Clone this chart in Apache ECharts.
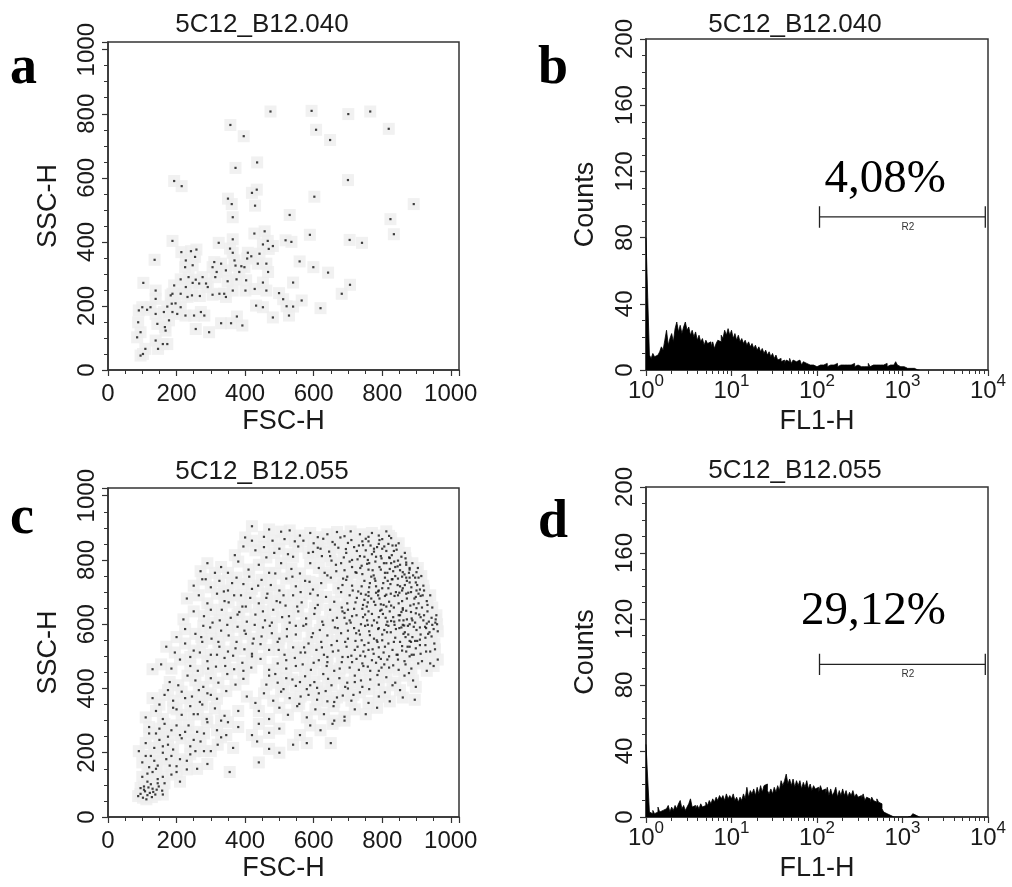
<!DOCTYPE html>
<html><head><meta charset="utf-8">
<script src="https://cdn.jsdelivr.net/npm/echarts@6/dist/echarts.min.js"></script>
<style>html,body{margin:0;padding:0;background:#fff}#chart{width:1012px;height:887px}</style>
</head><body><div id="chart"></div>
<script>
// ---------------- data ----------------
const panelLetters = ['a', 'b', 'c', 'd'];
const panelTitles = ['5C12_B12.040', '5C12_B12.040', '5C12_B12.055', '5C12_B12.055'];
const scatterXName = 'FSC-H', scatterYName = 'SSC-H';
const histXName = 'FL1-H', histYName = 'Counts';
const scatterMin = 0, scatterMax = 1024, scatterStep = 200;
const histYMin = 0, histYMax = 200, histYStep = 40;
const histXMin = 1, histXMax = 10000;
const gatePercents = ['4,08%', '29,12%'];
const gateName = 'R2';
const gateStart = 107, gateEnd = 9300, gateLevel = 92.5, gateCapLow = 86, gateCapHigh = 99;
const binWidthDecades = 0.02; // FL1 channel bins, in decades

const histB = [80,44,
 9,7,10,8,9,8,
 11,14,12,18,24, 15,19,22,17,25, 29,23,27,22,26, 29,24,26,21,24, 20,23,18,21,17,
 19,15,18,16,17, 14,17,13,16,18, 17,21,19,24,21, 25,21,24,19,22, 18,21,17,19,16,
 18,15,17,14,16, 13,15,12,14,11, 13,10,12,9,11, 8,10,7,9,6, 7,5,6,4,6,
 5,7,4,6,5, 4,6,5,3,5, 4,5,3,4,3, 4,2,3,3,2, 3,2,4,2,3,
 2,3,2,4,2, 3,2,3,2,3, 2,3,2,4,2, 3,2,2,3,2, 3,2,4,2,3,
 2,3,2,3,2, 3,2,4,2,3, 2,3,2,5,3, 2,3,2,2,1, 2,1,2,1,0, 0,0];

const histD = [44,23,
 3,2,4,2, 3,6,3,4,
 3,5,4,7,3, 6,4,7,5,8, 10,5,7,4,6, 8,11,6,7,5, 7,5,8,6,7,
 9,7,10,8,11, 9,12,10,13,11, 13,10,14,11,13, 11,14,10,12,9, 12,10,14,11,18,
 12,16,14,17,13, 18,14,19,15,19, 20,16,14,17,14, 18,15,19,16,22, 19,22,26,20,23,
 19,23,18,22,19, 22,17,21,18,22, 17,20,16,19,17, 18,15,19,16,17, 14,18,13,17,13,
 15,18,12,16,13, 17,13,16,12,15, 13,16,12,14,12, 13,11,14,10,12, 11,9,12,10,9,
 11,9,8,5,3, 2,2,1,1,0, 0,0,0,0,0, 0,0,0,0,0.5, 1,2,1,0,0];

const scatterA = [
 [474,807],[594,809],[701,799],[765,807],[357,765],[607,750],[648,718],[819,753],[396,730],[435,648],
 [372,631],[700,593],[215,574],[193,590],[420,553],[434,563],[602,541],[429,513],[350,535],[361,518],
 [892,518],[530,484],[364,477],[824,471],[834,424],[589,422],[705,406],[518,405],[535,400],[741,397],
 [188,403],[323,397],[364,408],[457,433],[427,426],[481,387],[469,378],[356,379],[364,366],[242,371],
 [258,376],[214,368],[442,363],[418,355],[406,348],[437,332],[462,332],[389,324],[369,342],[330,332],
 [310,337],[254,353],[227,342],[136,344],[599,321],[559,339],[642,304],[467,306],[398,321],[305,321],
 [317,306],[344,311],[225,321],[235,290],[256,282],[266,270],[286,270],[247,272],[349,277],[375,283],
 [403,280],[428,253],[452,273],[193,264],[103,272],[706,266],[540,273],[682,238],[565,217],[462,248],
 [499,240],[511,221],[521,199],[540,198],[432,201],[452,196],[620,193],[325,238],[344,228],[305,235],
 [268,231],[245,233],[232,228],[212,238],[183,233],[139,248],[139,222],[197,208],[186,207],[173,198],
 [124,196],[100,196],[90,186],[114,188],[212,196],[226,170],[251,170],[271,181],[281,170],[202,175],
 [188,181],[178,155],[166,134],[168,123],[144,144],[139,92],[146,66],[160,81],[173,81],[109,66],
 [95,118],[88,149],[85,102],[95,45],[102,50],[256,128],[295,118],[330,146],[359,146],[392,139],
 [376,167],[481,164],[528,170],[401,248],[364,248],[291,259],[339,238],[383,306],[372,326],[408,366],
 [452,392],[466,403],[247,327],[276,290],[313,290],[227,259],[212,283],[188,238],[163,181],[139,175]
];

const scatterC = [
 [420,905],[455,872],[505,888],[530,892],[560,876],[590,884],[612,871],[640,880],[668,887],[690,874],
 [708,889],[735,880],[752,866],[770,884],[790,876],[812,889],[826,868],[480,860],[545,858],[600,852],
 [655,856],[700,853],[742,858],[790,850],[830,845],
 [370,815],[395,842],[430,830],[462,808],[500,835],[525,818],[555,842],[585,822],[620,835],[648,812],
 [672,838],[695,822],[718,840],[735,812],[752,830],[770,818],[785,840],[798,805],[812,828],[828,815],
 [842,832],[856,810],[866,822],[758,800],[805,790],[835,795],[845,780],[870,792],[880,770],
 [270,765],[290,790],[330,778],[350,760],[380,795],[410,770],[440,785],[470,760],[505,790],[535,772],
 [560,758],[590,790],[615,775],[640,752],[665,785],[690,768],[705,795],[725,760],[740,782],[760,770],
 [775,752],[792,778],[808,760],[822,772],[838,750],[852,768],[865,755],[880,775],[890,752],[900,762],
 [780,795],[812,790],[870,785],
 [250,720],[275,740],[300,715],[325,735],[350,705],[375,745],[395,725],[420,710],[448,738],[475,722],
 [500,705],[520,742],[548,718],[575,735],[598,708],[622,728],[650,745],[672,712],[695,738],[712,720],
 [730,702],[748,735],[762,715],[778,742],[790,705],[803,728],[818,712],[830,740],[845,722],[858,705],
 [872,735],[885,715],[898,730],[910,708],[920,720],[760,700],[840,700],[880,745],
 [230,680],[265,690],[290,665],[318,695],[340,672],[368,690],[392,655],[415,682],[440,665],[465,695],
 [492,672],[518,658],[540,690],[565,668],[590,695],[612,660],[636,685],[660,670],[682,652],[705,690],
 [722,668],[738,695],[755,655],[768,680],[782,698],[796,662],[808,688],[820,670],[834,652],[846,690],
 [858,672],[870,695],[882,658],[894,680],[906,665],[918,690],[930,672],[780,660],[825,695],[860,650],[900,650],
 [220,615],[250,640],[280,625],[305,605],[332,645],[358,620],[383,638],[405,608],[430,630],[458,612],
 [482,645],[508,622],[530,605],[555,640],[578,618],[602,632],[625,608],[648,645],[668,620],[690,635],
 [708,605],[725,628],[742,648],[756,612],[770,632],[785,605],[798,645],[810,620],[822,640],[835,608],
 [848,628],[860,645],[872,615],[884,638],[896,605],[908,630],[920,612],[932,640],[944,620],[955,605],
 [760,640],[790,622],[815,608],[850,612],[880,600],
 [200,560],[225,585],[255,570],[278,595],[302,555],[330,580],[352,565],[378,592],[402,570],[425,555],
 [452,590],[478,572],[500,555],[522,585],[548,568],[570,595],[594,560],[618,582],[640,565],[662,590],
 [680,572],[700,555],[718,588],[735,568],[750,595],[762,578],[776,555],[788,585],[800,568],[812,598],
 [825,575],[838,558],[850,588],[862,570],[875,595],[888,560],[900,582],[912,568],[925,592],[938,575],
 [950,585],[960,600],[740,550],[800,550],[860,598],[910,552],
 [170,530],[195,512],[225,540],[250,518],[275,545],[300,505],[325,530],[350,515],[375,545],[398,522],
 [420,508],[445,538],[470,520],[495,545],[515,505],[540,528],[562,512],[585,540],[608,520],[630,505],
 [652,535],[672,518],[692,545],[710,502],[728,530],[745,515],[760,542],[775,508],[790,528],[804,512],
 [818,540],[830,520],[845,505],[858,532],[870,515],[884,545],[898,525],[912,508],[926,535],[940,515],
 [952,540],[750,500],[820,500],[880,500],
 [130,460],[155,475],[185,462],[210,490],[240,470],[262,455],[290,485],[315,468],[340,495],[368,460],
 [392,480],[418,465],[445,492],[470,458],[495,478],[520,462],[545,495],[568,475],[592,458],[615,488],
 [638,470],[660,455],[682,482],[705,465],[725,492],[745,470],[765,455],[782,480],[798,465],[815,490],
 [832,472],[848,458],[865,485],[885,462],[905,478],[930,455],[950,470],[700,498],[790,498],[640,498],
 [180,420],[205,410],[232,440],[255,425],[278,405],[300,432],[322,418],[348,445],[372,412],[395,430],
 [470,440],[495,418],[520,432],[548,408],[575,438],[602,420],[628,445],[652,410],[675,432],[698,418],
 [720,440],[742,405],[765,428],[790,412],[812,435],[838,418],[865,440],[890,425],[610,402],[700,400],
 [130,370],[165,380],[190,362],[215,390],[245,375],[268,358],[290,385],[318,368],[345,392],[405,375],
 [430,355],[455,385],[482,362],[505,390],[530,370],[558,352],[585,380],[610,365],[635,392],[660,358],
 [685,378],[710,362],[735,388],[760,355],[790,375],[822,360],[860,372],[895,365],[265,395],[580,398],
 [110,310],[140,330],[160,305],[190,340],[215,318],[240,345],[262,320],[288,305],[312,338],[340,315],
 [440,330],[470,305],[500,340],[525,318],[552,345],[580,310],[605,335],[630,320],[658,345],[690,312],
 [720,335],[752,320],[785,340],[660,300],
 [120,280],[140,260],[165,290],[185,270],[210,255],[235,285],[260,265],[290,295],[318,270],[345,255],
 [380,280],[440,290],[470,262],[500,275],[560,255],[590,285],[620,270],[655,290],[690,300],[350,295],[420,255],
 [90,205],[110,230],[135,215],[150,240],[175,225],[190,210],[215,245],[240,220],[270,235],[300,205],
 [330,248],[365,215],[435,235],[470,212],[500,200],[540,225],[580,230],[650,230],[160,200],[280,205],
 [100,170],[125,190],[145,160],[170,180],[200,158],[230,175],[260,150],[290,165],[240,195],[355,140],[440,170],[120,155],
 [100,125],[115,110],[130,140],[145,118],[165,105],[185,132],[210,110],[230,148],[200,140],[125,102],
 [88,65],[95,72],[102,60],[108,80],[115,68],[122,75],[130,88],[138,70],[148,95],[158,82],[112,55],[128,62],
 [142,85],[95,90],[105,95],[160,70],
 [705,612],[718,648],[732,580],[744,622],[758,668],[770,596],[782,718],[794,642],[806,582],[816,735],
 [826,658],[836,598],[846,742],[856,638],[866,575],[876,698],[886,618],[896,548],[906,745],[916,652],
 [926,558],[936,608],[946,652],[772,768],[796,812],[818,850],[838,778],[852,718],[862,612],[874,530],
 [886,505],[898,685],[812,692],[786,545],[760,520],[742,478],[770,488],[806,475],[842,505],[868,560],
 [892,592],[912,622],[928,588],[944,562],[956,615],[722,762],[748,810],[776,835],[800,865],[822,806],
 [840,845],[860,762],[880,730],[900,705],[760,688],[788,702],[744,660],[804,660],[832,622],[856,590],
 [880,548],[720,520],[700,580],[690,620],[680,700],[760,872],
 [612,838],[628,866],[645,826],[662,848],[678,870],[694,834],[710,862],[726,828],[744,846],[760,858],
 [776,826],[792,862],[806,842],[820,875],[834,828],[848,852],[624,812],[688,808],[712,800],[732,845],
 [766,845],[800,835],[826,790],
 [652,798],[666,765],[680,790],[698,748],[712,778],[728,802],[742,756],[756,788],[768,748],[782,810],
 [796,770],[808,745],[820,808],[832,765],[846,798],[858,748],[868,805],[878,760],[888,790],[896,745],
 [904,775],[914,750],[686,742],[736,775],[762,790],[815,760],[852,785],[870,745],
 [684,722],[698,665],[714,705],[726,682],[740,718],[752,692],[764,728],[776,670],[788,690],[800,712],
 [812,655],[824,725],[836,688],[848,665],[860,712],[872,680],[884,700],[892,662],[902,722],[912,688],
 [922,705],[932,660],[940,690],[780,735],[828,740],[866,722],[906,695],[748,676],[792,680],[850,698],
 [656,612],[670,588],[684,640],[696,602],[712,625],[724,572],[738,600],[750,630],[764,566],[776,612],
 [790,588],[802,632],[814,575],[826,610],[840,585],[852,628],[864,596],[876,568],[888,612],[898,634],
 [910,590],[922,628],[934,570],[946,598],[958,628],[962,578],[700,645],[758,598],[818,595],[870,642],[930,602],
 [624,528],[640,482],[656,515],[668,548],[684,498],[696,530],[712,482],[722,548],[736,502],[748,535],
 [758,468],[772,522],[784,550],[796,492],[808,530],[820,465],[834,545],[846,490],[858,518],[868,475],
 [880,530],[892,505],[902,548],[916,485],[928,515],[940,478],[954,522],[962,490],[676,462],[732,458],
 [790,455],[852,545],[910,535],
 [462,412],[488,445],[512,398],[538,428],[562,375],[590,410],[615,385],[642,430],[668,372],[692,405],
 [716,380],[738,425],[762,398],[786,442],[808,388],[830,410],[852,395],[878,448],[898,405],[560,420],
 [640,360],[720,420],
 [285,740],[312,760],[338,702],[362,728],[388,690],[412,748],[438,720],[462,682],[488,758],[512,690],
 [538,748],[562,700],[588,732],[612,690],[632,760],[300,645],[326,612],[352,668],[378,630],[402,655],
 [428,598],[452,640],[478,605],[502,668],[528,625],[552,655],[578,600],[604,650],[628,598],[272,560],
 [298,590],[322,545],[348,598],[372,525],[398,580],[422,540],[448,562],[472,595],[498,520],[522,562],
 [548,595],[572,528],[598,572],[622,545],[240,498],[268,512],[292,462],[318,505],[342,470],[365,502],
 [395,455],[420,500],[520,488],[548,470],[575,512],[600,480],[420,860],[455,840],[485,822],[515,865],
 [540,810],[570,860],[598,825],[470,895],[400,870],
 [150,350],[175,395],[200,335],[225,370],[250,320],[275,350],[300,380],[330,300],[380,330],[120,260],
 [150,275],[175,250],[200,285],[225,265],[250,240],[280,260],[320,225],[110,190],[135,175],[160,220],
 [185,190],[210,180],[255,205],[115,135],[140,150],[160,125],[180,160],[105,85],[118,92],[132,78],[145,105]
];

// ---------------- chart ----------------
const FONT = '"Liberation Sans", Arial, Helvetica, sans-serif';
const SERIF = '"Liberation Serif", "Times New Roman", serif';
const INK = '#1a1a1a';

// bin left edges on the FL1 scale (channel -> value)
function histPoints(counts) {
  const pts = counts.map((c, i) => [Math.pow(10, i * binWidthDecades), c]);
  pts.push([Math.pow(10, counts.length * binWidthDecades), 0]);
  return pts;
}

const grids = [
  {left: 108, top: 42, width: 351, height: 328},
  {left: 646, top: 39, width: 342, height: 331},
  {left: 108, top: 488, width: 351, height: 329},
  {left: 646, top: 487, width: 342, height: 330}
].map(g => Object.assign(g, {show: true, borderColor: '#333', borderWidth: 1.5, backgroundColor: '#fff', containLabel: false}));

const axisLineStyle = {show: true, onZero: false, lineStyle: {color: '#333', width: 1.5}};
const tickStyle = {show: true, length: 6, lineStyle: {color: '#333', width: 1.2}};
const minorStyle = (n) => ({show: true, splitNumber: n, length: 4, lineStyle: {color: '#333', width: 1}});
const plain = v => String(v);

function scatterX(gi) {
  return {type: 'value', gridIndex: gi, min: scatterMin, max: scatterMax, interval: scatterStep,
    axisLine: axisLineStyle, axisTick: tickStyle, minorTick: minorStyle(4), splitLine: {show: false},
    axisLabel: {fontSize: 24, fontFamily: FONT, color: INK, margin: 12, formatter: plain},
    name: scatterXName, nameLocation: 'middle', nameGap: 38,
    nameTextStyle: {fontSize: 27, fontFamily: FONT, color: INK}};
}
function scatterY(gi) {
  return {type: 'value', gridIndex: gi, min: scatterMin, max: scatterMax, interval: scatterStep,
    axisLine: axisLineStyle, axisTick: tickStyle, minorTick: minorStyle(4), splitLine: {show: false},
    axisLabel: {fontSize: 24, fontFamily: FONT, color: INK, margin: 9, rotate: 90, formatter: plain},
    name: scatterYName, nameLocation: 'middle', nameGap: 46,
    nameTextStyle: {fontSize: 27, fontFamily: FONT, color: INK}};
}
function histX(gi) {
  return {type: 'log', logBase: 10, gridIndex: gi, min: histXMin, max: histXMax,
    axisLine: axisLineStyle, axisTick: tickStyle, minorTick: minorStyle(9), splitLine: {show: false},
    axisLabel: {margin: 3, color: INK,
      formatter: v => '{b|10}{s|' + Math.round(Math.log10(v)) + '}',
      rich: {b: {fontSize: 24, fontFamily: FONT, color: INK, lineHeight: 30, verticalAlign: 'bottom'},
             s: {fontSize: 17, fontFamily: FONT, color: INK, lineHeight: 17, verticalAlign: 'top'}}},
    name: histXName, nameLocation: 'middle', nameGap: 38,
    nameTextStyle: {fontSize: 27, fontFamily: FONT, color: INK}};
}
function histY(gi) {
  return {type: 'value', gridIndex: gi, min: histYMin, max: histYMax, interval: histYStep,
    axisLine: axisLineStyle, axisTick: tickStyle, minorTick: minorStyle(4), splitLine: {show: false},
    axisLabel: {fontSize: 24, fontFamily: FONT, color: INK, margin: 9, rotate: 90, formatter: plain},
    name: histYName, nameLocation: 'middle', nameGap: 47,
    nameTextStyle: {fontSize: 27, fontFamily: FONT, color: INK}};
}

function scatterSeries(idx, pts) {
  return [
    {type: 'scatter', xAxisIndex: idx, yAxisIndex: idx, data: pts, symbol: 'rect', symbolSize: 12,
     itemStyle: {color: '#eeeeee'}, silent: true, z: 1, animation: false},
    {type: 'scatter', xAxisIndex: idx, yAxisIndex: idx, data: pts, symbol: 'rect', symbolSize: 2.2,
     itemStyle: {color: '#111'}, silent: true, z: 3, animation: false}
  ];
}
function histSeries(idx, counts) {
  return {type: 'line', xAxisIndex: idx, yAxisIndex: idx, data: histPoints(counts), step: 'end',
    showSymbol: false, symbol: 'none', lineStyle: {color: '#000', width: 0.8},
    areaStyle: {color: '#000', opacity: 1}, z: 2, animation: false, silent: true};
}
function gateSeries(idx) {
  const base = {type: 'line', xAxisIndex: idx, yAxisIndex: idx, symbol: 'none', showSymbol: false,
    lineStyle: {color: '#222', width: 1.3}, z: 4, animation: false, silent: true};
  return [
    Object.assign({}, base, {data: [[gateStart, gateLevel], [gateEnd, gateLevel]]}),
    Object.assign({}, base, {data: [[gateStart, gateCapLow], [gateStart, gateCapHigh]]}),
    Object.assign({}, base, {data: [[gateEnd, gateCapLow], [gateEnd, gateCapHigh]]})
  ];
}

const titlePos = [[262, 25], [795, 25], [262, 472], [795, 471]];
const letterPos = [[10, 69], [538, 69], [10, 519], [538, 523]];
const percentPos = [[946, 180], [946, 612]];
const r2Pos = [[908, 227], [908, 674]];

const graphic = [];
panelTitles.forEach((t, i) => graphic.push({type: 'text', x: titlePos[i][0], y: titlePos[i][1], silent: true,
  style: {text: t, font: '26px ' + FONT, fill: INK, align: 'center', verticalAlign: 'middle'}}));
panelLetters.forEach((t, i) => graphic.push({type: 'text', x: letterPos[i][0], y: letterPos[i][1], silent: true,
  style: {text: t, font: 'bold 54px ' + SERIF, fill: '#000', align: 'left', verticalAlign: 'middle'}}));
gatePercents.forEach((t, i) => graphic.push({type: 'text', x: percentPos[i][0], y: percentPos[i][1], silent: true,
  style: {text: t, font: '47px ' + SERIF, fill: '#000', align: 'right', verticalAlign: 'middle'}}));
r2Pos.forEach(p => graphic.push({type: 'text', x: p[0], y: p[1], silent: true,
  style: {text: gateName, font: '10px ' + FONT, fill: '#333', align: 'center', verticalAlign: 'middle'}}));

const chart = echarts.init(document.getElementById('chart'), null, {renderer: 'canvas', width: 1012, height: 887});
chart.setOption({
  backgroundColor: '#fff',
  animation: false,
  grid: grids,
  xAxis: [scatterX(0), histX(1), scatterX(2), histX(3)],
  yAxis: [scatterY(0), histY(1), scatterY(2), histY(3)],
  series: [].concat(
    scatterSeries(0, scatterA),
    [histSeries(1, histB)], gateSeries(1),
    scatterSeries(2, scatterC),
    [histSeries(3, histD)], gateSeries(3)
  ),
  graphic: graphic
});
</script></body></html>
